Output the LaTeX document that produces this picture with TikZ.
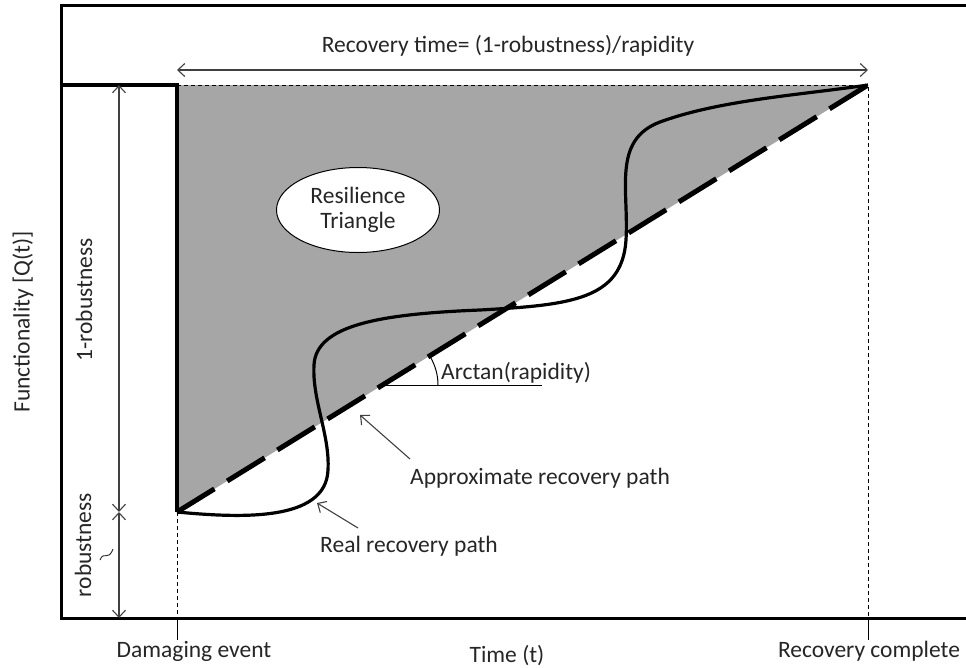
\documentclass[tikz,border=0pt]{standalone}
\usepackage{fontspec}
\setmainfont{Carlito}
\usetikzlibrary{arrows.meta, positioning, shapes.geometric, calc}
\definecolor{tri_gray}{RGB}{166,166,166}
\definecolor{txt_dark}{RGB}{38,38,38}
\definecolor{dim_gray}{RGB}{64,64,64}

\begin{document}
\begin{tikzpicture}[x=1pt, y=-1pt,
        lbl/.style={font=\fontsize{23.5}{27}\selectfont, text=txt_dark, inner sep=0pt},
        frame/.style={line width=3pt, black},
        dimarr/.style={{Straight Barb[length=7pt,width=13pt]}-{Straight Barb[length=7pt,width=13pt]},
                       line width=1.1pt, color=dim_gray},
        ptr/.style={-{Straight Barb[length=7pt,width=13pt]}, line width=1.1pt, color=dim_gray},
        guide/.style={dash pattern=on 4pt off 3pt, line width=1pt},
        realcurve/.style={line width=3.2pt, black},
      ]
        \useasboundingbox (0,0) rectangle (966,667);

        % key points
        \coordinate (full)  at (177,85);
        \coordinate (drop)  at (177,512);
        \coordinate (done)  at (868,85);
        \coordinate (ax0)   at (177,618);
        \coordinate (ax1)   at (868,618);

        % resilience triangle
        \fill[tri_gray] (full) -- (done) -- (drop) -- cycle;
        \node[ellipse, draw, fill=white, line width=1pt, minimum width=163pt, minimum height=85pt,
              align=center, lbl] (tri) at (358,210) {Resilience\\[-2pt]Triangle};

        % frame
        \draw[frame] (966,5) -- (61,5) -- (61,618) -- (966,618);
        \draw[line width=4pt] (61,85) -- (full) -- (drop);

        % guides
        \draw[guide] (full) -- (done) -- (ax1);
        \draw[guide] (drop) -- (ax0);
        \draw[line width=1pt] (ax0) -- ++(0,22);
        \draw[line width=1pt] (ax1) -- ++(0,22);

        % approximate path
        \draw[line width=5pt, dash pattern=on 44pt off 15pt] (drop) -- (done);

        % real path
        \draw[realcurve] (drop) .. controls (240,518) and (326,522) .. (328,470)
              .. controls (330,435) and (312,400) .. (314,365)
              .. controls (316,325) and (380,314) .. (480,310)
              .. controls (570,305) and (622,300) .. (626,240)
              .. controls (629,190) and (612,140) .. (660,122)
              .. controls (720,100) and (800,95) .. (done);

        % rapidity angle
        \coordinate (ang) at (383,385);
        \draw[line width=1pt] (ang) -- (542,385);
        \draw[line width=1pt] ($(ang)+(55,0)$) arc[start angle=0, end angle=-31.7, radius=55];
        \node[lbl, anchor=west] (arct) at (441,373) {Arctan(rapidity)};

        % dimensions
        \draw[dimarr] (177,70) -- (868,70);
        \node[lbl] (rt) at (508,46) {Recovery time= (1-robustness)/rapidity};
        \draw[dimarr] (119,512) -- (119,85);
        \draw[dimarr] (119,512) -- (119,618);
        \node[lbl, rotate=90] (onemr) at (84,300) {1-robustness};
        \node[lbl, rotate=90] (rob) at (83,545) {robustness};
        \draw[line width=0.9pt, txt_dark] (100,560) .. controls (104,550) and (108,562) .. (113,549);
        \node[lbl, rotate=90] (qt) at (23,322) {Functionality [Q(t)]};

        % axis labels
        \node[lbl] (dmg) at (194,651) {Damaging event};
        \node[lbl] (rec) at (869,651) {Recovery complete};
        \node[lbl] (tm)  at (507,656) {Time (t)};

        % pointers
        \node[lbl] (apx) at (540,478) {Approximate recovery path};
        \node[lbl] (rl)  at (409,546) {Real recovery path};
        \coordinate (apxhead) at (360,415);
        \coordinate (rlhead)  at (317,503);
        \draw[ptr] (410,459) -- (apxhead);
        \draw[ptr] (358,528) -- (rlhead);
      \end{tikzpicture}
\end{document}
